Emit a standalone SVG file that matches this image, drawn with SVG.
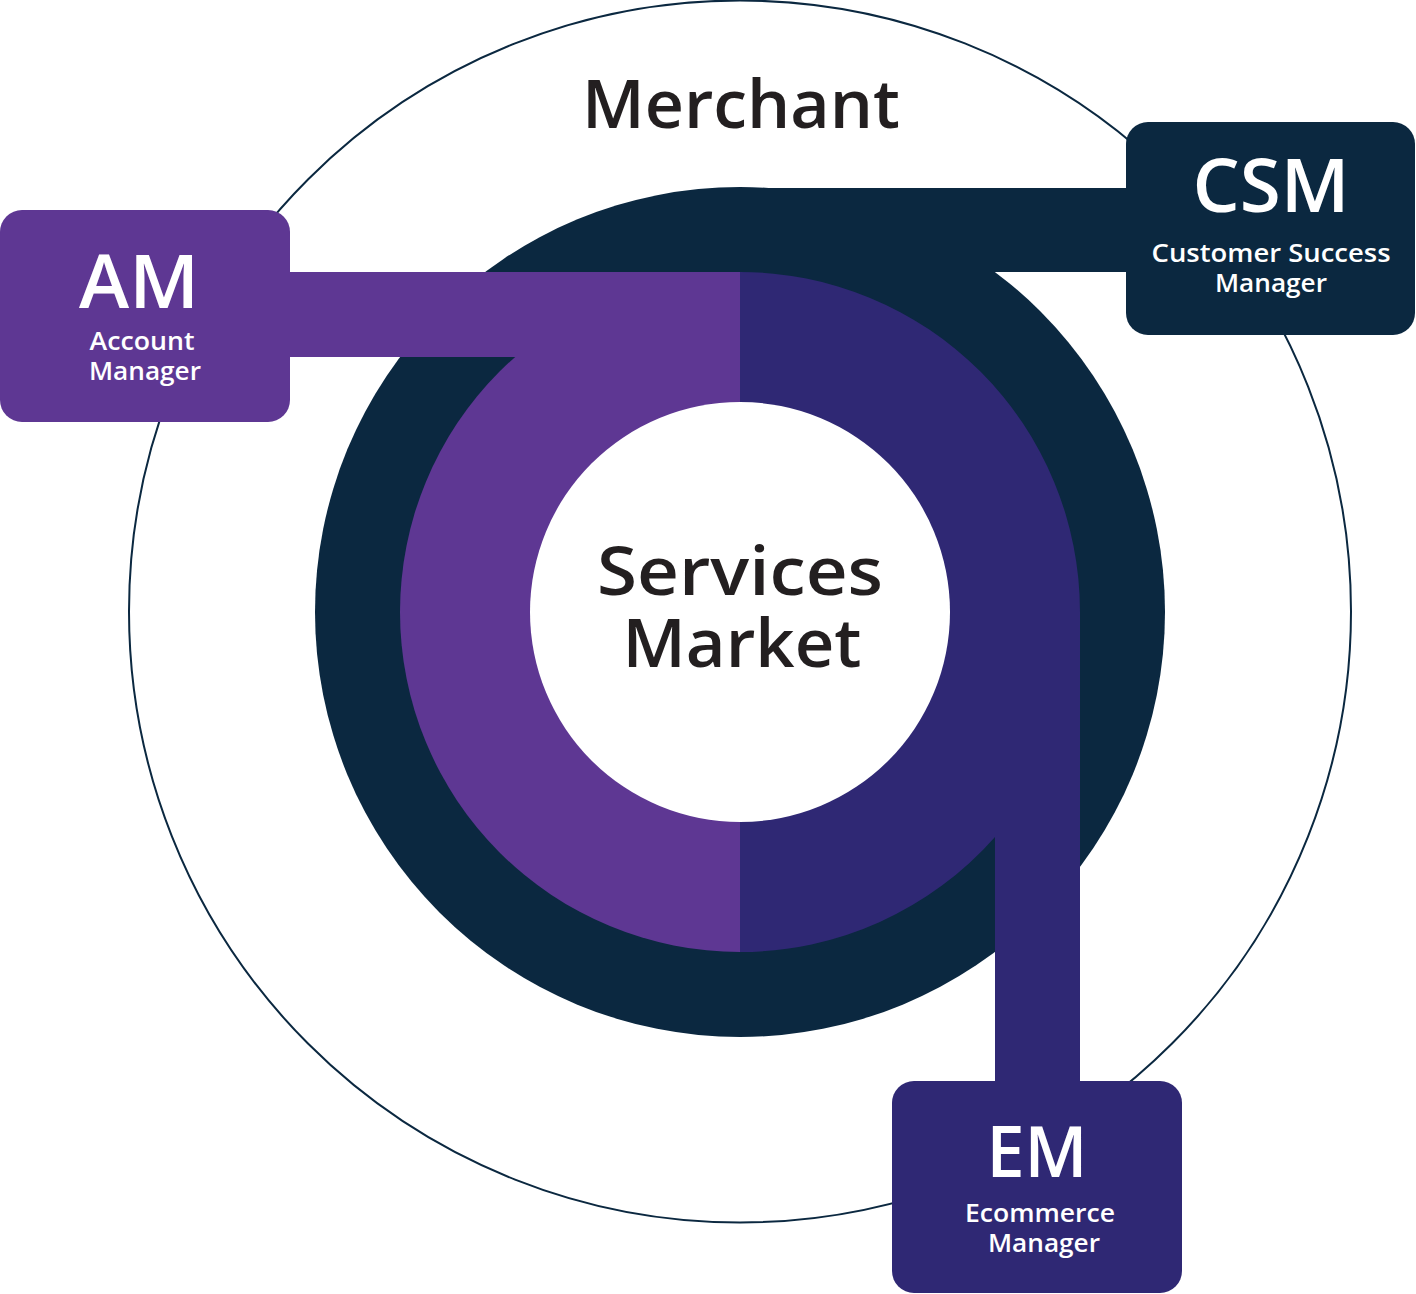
<svg xmlns="http://www.w3.org/2000/svg" width="1416" height="1294" viewBox="0 0 1416 1294">
  <style>
    .big { font-family: "Open Sans", "Noto Sans", sans-serif; font-weight: 600; text-anchor: middle; }
    .dark { fill: #231f20; }
    .white { fill: #ffffff; }
    .small { font-family: "Open Sans", "Noto Sans", sans-serif; font-weight: 600; font-size: 25px; text-anchor: middle; fill: #ffffff; }
    .navy { fill: #0b2840; }
    .purple { fill: #5e3793; }
    .indigo { fill: #2f2874; }
  </style>
  <rect width="1416" height="1294" fill="#ffffff"/>
  <g id="merchant">
    <circle cx="740" cy="611.5" r="611" fill="#ffffff" stroke="#0b2840" stroke-width="2"/>
    <text class="big dark" x="741" y="128" font-size="67" textLength="318" lengthAdjust="spacingAndGlyphs">Merchant</text>
  </g>
  <g id="connectors">
    <circle class="navy" cx="740" cy="612" r="425"/>
    <rect class="navy" x="740" y="188" width="392" height="84"/>
    <path class="purple" d="M740 272 A340 340 0 0 0 740 952 Z"/>
    <path class="indigo" d="M740 272 A340 340 0 0 1 1080 612 L1080 1090 L995 1090 L995 837 A340 340 0 0 1 740 952 Z"/>
    <rect class="purple" x="280" y="272" width="460" height="85"/>
  </g>
  <g id="services-market">
    <circle cx="740" cy="612" r="210" fill="#ffffff"/>
    <text class="big dark" x="740" y="595" font-size="67" textLength="286" lengthAdjust="spacingAndGlyphs">Services</text>
    <text class="big dark" x="742" y="667" font-size="67" textLength="239" lengthAdjust="spacingAndGlyphs">Market</text>
  </g>
  <g id="am">
    <rect class="purple" x="0" y="210" width="290" height="212" rx="22"/>
    <text class="big white" x="139" y="308" font-size="74" textLength="120" lengthAdjust="spacingAndGlyphs">AM</text>
    <text class="small" x="142" y="350" textLength="105" lengthAdjust="spacingAndGlyphs">Account</text>
    <text class="small" x="145" y="380" textLength="112" lengthAdjust="spacingAndGlyphs">Manager</text>
  </g>
  <g id="csm">
    <rect class="navy" x="1126" y="122" width="289" height="213" rx="22"/>
    <text class="big white" x="1271" y="212" font-size="74" textLength="157" lengthAdjust="spacingAndGlyphs">CSM</text>
    <text class="small" x="1271" y="262" textLength="239" lengthAdjust="spacingAndGlyphs">Customer Success</text>
    <text class="small" x="1271" y="292" textLength="112" lengthAdjust="spacingAndGlyphs">Manager</text>
  </g>
  <g id="em">
    <rect class="indigo" x="892" y="1081" width="290" height="212" rx="22"/>
    <text class="big white" x="1037" y="1177" font-size="70" textLength="101" lengthAdjust="spacingAndGlyphs">EM</text>
    <text class="small" x="1040" y="1222" textLength="150" lengthAdjust="spacingAndGlyphs">Ecommerce</text>
    <text class="small" x="1044" y="1252" textLength="112" lengthAdjust="spacingAndGlyphs">Manager</text>
  </g>
</svg>
